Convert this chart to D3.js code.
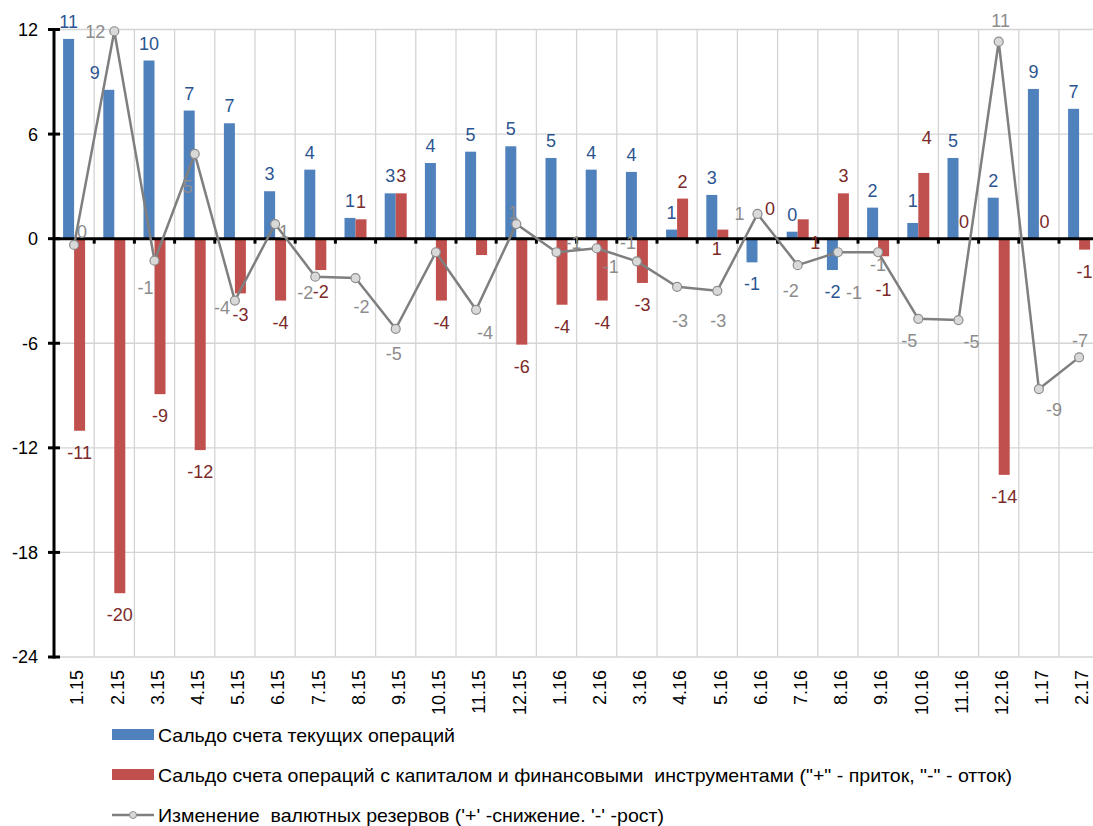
<!DOCTYPE html>
<html><head><meta charset="utf-8">
<script src="https://cdn.jsdelivr.net/npm/d3@7"></script>
<style>
html,body{margin:0;padding:0;background:#fff;}
text{font-family:"Liberation Sans",Arial,sans-serif;}
</style></head>
<body>
<svg id="chart" width="1093" height="826"></svg>
<script>
// ---- data ----
const categories = ["1.15","2.15","3.15","4.15","5.15","6.15","7.15","8.15","9.15","10.15","11.15","12.15",
  "1.16","2.16","3.16","4.16","5.16","6.16","7.16","8.16","9.16","10.16","11.16","12.16","1.17","2.17"];
const currentAccount = [11.46,8.54,10.22,7.35,6.62,2.72,3.96,1.19,2.6,4.34,4.99,5.3,
  4.63,3.96,3.83,0.52,2.51,-1.36,0.4,-1.8,1.78,0.9,4.63,2.35,8.59,7.45];
const capitalAccount = [-11.02,-20.34,-8.92,-12.13,-3.14,-3.55,-1.8,1.11,2.6,-3.55,-0.94,-6.08,
  -3.79,-3.55,-2.54,2.3,0.52,0,1.11,2.6,-1.01,3.77,0,-13.55,0,-0.63];
const reservesChange = [-0.36,11.9,-1.26,4.86,-3.55,0.84,-2.18,-2.26,-5.17,-0.78,-4.08,0.84,
  -0.78,-0.55,-1.3,-2.76,-2.99,1.42,-1.52,-0.78,-0.78,-4.6,-4.67,11.3,-8.63,-6.81];
const yTicks = [12,6,0,-6,-12,-18,-24];
const seriesNames = [
  "Сальдо счета текущих операций",
  "Сальдо счета операций с капиталом и финансовыми  инструментами (\"+\" - приток, \"-\" - отток)",
  "Изменение  валютных резервов ('+' -снижение. '-' -рост)"
];

// ---- styling / label placement ----
const C = {blue:"#4F81BD", red:"#C0504D", line:"#7F7F7F", blueTxt:"#2B5591", redTxt:"#7A2A28", grayTxt:"#8C8C8C", grid:"#D4D4D4"};
const FS = 18;
const legendWidths = [297, 854, 506];
const hiddenLabels = {cur:[], cap:[10], res:[9]};
const curNudge = {1:[-14,0], 21:[0,-5]};
const capNudge = {16:[-6,36], 17:[7,-13], 18:[12,41], 20:[0,12], 21:[3,-18]};
const resNudge = [[8,-13],[-19,0],[-9,27],[-7,33],[-13,7],[9,7],[-10,16],[6,28],[-2,25],[0,0],[9,23],[-3,-12],
  [17,-10],[14,18],[-9,-19],[3,34],[1,30],[-18,0],[-7,25],[16,40],[0,12],[-9,22],[13,21],[2,-21],[15,20],[1,-17]];

const fmt = v => { const s = v.toFixed(0); return (s === "-0") ? "0" : s; };

const svg = d3.select("#chart");
svg.append("rect").attr("width",1093).attr("height",826).attr("fill","#fff");

const left = 54, bandW = 40.2;
const x = d3.scaleBand().domain(categories).range([left, left + bandW*categories.length]).padding(0);
const y = d3.scaleLinear().domain([-24,12]).range([657,29.5]);
const barW = 11;
const xs = d3.scaleBand().domain(["cur","cap"]).range([bandW/2 - barW, bandW/2 + barW]).padding(0);
const cx = c => x(c) + x.bandwidth()/2;

// gridlines
const g = svg.append("g");
g.selectAll(".hg").data(yTicks.filter(t=>t!==0)).join("line")
  .attr("x1",left).attr("x2",1093).attr("y1",d=>y(d)).attr("y2",d=>y(d))
  .attr("stroke",C.grid).attr("stroke-width",1.3);
g.selectAll(".vg").data(categories.slice(1)).join("line")
  .attr("x1",d=>x(d)).attr("x2",d=>x(d)).attr("y1",y(12)).attr("y2",y(-24))
  .attr("stroke",C.grid).attr("stroke-width",1.3);
g.append("line").attr("x1",x.range()[1]).attr("x2",x.range()[1]).attr("y1",y(12)).attr("y2",y(-24))
  .attr("stroke",C.grid).attr("stroke-width",1.3);

// bars
const bars = svg.append("g");
bars.selectAll(".cur").data(categories).join("rect")
  .attr("x",(d)=>x(d)+xs("cur")).attr("width",xs.bandwidth())
  .attr("y",(d,i)=>y(Math.max(0,currentAccount[i]))).attr("height",(d,i)=>Math.abs(y(currentAccount[i])-y(0)))
  .attr("fill",C.blue);
bars.selectAll(".cap").data(categories).join("rect")
  .attr("x",(d)=>x(d)+xs("cap")).attr("width",xs.bandwidth())
  .attr("y",(d,i)=>y(Math.max(0,capitalAccount[i]))).attr("height",(d,i)=>Math.abs(y(capitalAccount[i])-y(0)))
  .attr("fill",C.red);

// y axis
const ax = svg.append("g");
ax.append("line").attr("x1",left).attr("x2",left).attr("y1",y(12)-1.5).attr("y2",y(-24)+1.5)
  .attr("stroke","#000").attr("stroke-width",3);
ax.selectAll(".yt").data(yTicks).join("line")
  .attr("x1",left-6).attr("x2",left+6).attr("y1",d=>y(d)).attr("y2",d=>y(d))
  .attr("stroke","#000").attr("stroke-width",3);
ax.selectAll(".yl").data(yTicks).join("text")
  .attr("x",38).attr("y",d=>y(d)).attr("dy","0.36em").attr("text-anchor","end")
  .attr("font-size",FS).attr("fill","#000").text(d=>d);
// zero line
ax.append("line").attr("x1",left).attr("x2",1093).attr("y1",y(0)).attr("y2",y(0))
  .attr("stroke","#000").attr("stroke-width",3);
ax.selectAll(".xt").data(categories.slice(1)).join("line")
  .attr("x1",d=>x(d)).attr("x2",d=>x(d)).attr("y1",y(0)).attr("y2",y(0)+5)
  .attr("stroke","#000").attr("stroke-width",3);
// x labels
ax.selectAll(".xl").data(categories).join("text")
  .attr("transform",d=>`translate(${cx(d)+3},${670}) rotate(-90)`)
  .attr("text-anchor","end").attr("dy","0.35em")
  .attr("font-size",FS).attr("fill","#000").text(d=>d);

// line series
const lineGen = d3.line().x((d,i)=>cx(categories[i])).y(d=>y(d));
svg.append("path").datum(reservesChange).attr("d",lineGen)
  .attr("fill","none").attr("stroke",C.line).attr("stroke-width",2.5).attr("stroke-linejoin","round");
svg.selectAll(".pt").data(reservesChange).join("circle")
  .attr("cx",(d,i)=>cx(categories[i])).attr("cy",d=>y(d)).attr("r",4.5)
  .attr("fill","#D9D9D9").attr("stroke","#8C8C8C").attr("stroke-width",1.2);

// data labels
const lab = svg.append("g").attr("font-size",FS).attr("text-anchor","middle");
function barLabel(vals, key, color, nudge){
  vals.forEach((v,i)=>{
    if (hiddenLabels[key].includes(i)) return;
    const bx = x(categories[i]) + xs(key) + xs.bandwidth()/2;
    const n = nudge[i] || [0,0];
    const by = v >= 0 ? y(v) - 11 : y(v) + 28;
    lab.append("text").attr("x",bx+n[0]).attr("y",by+n[1]).attr("fill",color).text(fmt(v));
  });
}
barLabel(currentAccount,"cur",C.blueTxt,curNudge);
barLabel(capitalAccount,"cap",C.redTxt,capNudge);
reservesChange.forEach((v,i)=>{
  if (hiddenLabels.res.includes(i)) return;
  const n = resNudge[i];
  lab.append("text").attr("x",cx(categories[i])+n[0]).attr("y",y(v)+n[1]).attr("dy","0.36em")
    .attr("fill",C.grayTxt).text(fmt(v));
});

// legend
const leg = svg.append("g");
const legY = [735, 775, 815];
leg.append("rect").attr("x",112).attr("y",legY[0]-6).attr("width",42).attr("height",11).attr("fill",C.blue);
leg.append("rect").attr("x",112).attr("y",legY[1]-6).attr("width",42).attr("height",11).attr("fill",C.red);
leg.append("line").attr("x1",112).attr("x2",154).attr("y1",legY[2]).attr("y2",legY[2]).attr("stroke",C.line).attr("stroke-width",2.5);
leg.append("circle").attr("cx",133).attr("cy",legY[2]).attr("r",3.5).attr("fill","#D9D9D9").attr("stroke","#8C8C8C");
leg.selectAll(".lt").data(seriesNames).join("text")
  .attr("x",158).attr("y",(d,i)=>legY[i]).attr("dy","0.36em").attr("font-size",18.5).attr("fill","#000")
  .attr("textLength",(d,i)=>legendWidths[i]).attr("lengthAdjust","spacingAndGlyphs")
  .style("white-space","pre").attr("xml:space","preserve").text(d=>d);
</script>
</body></html>
